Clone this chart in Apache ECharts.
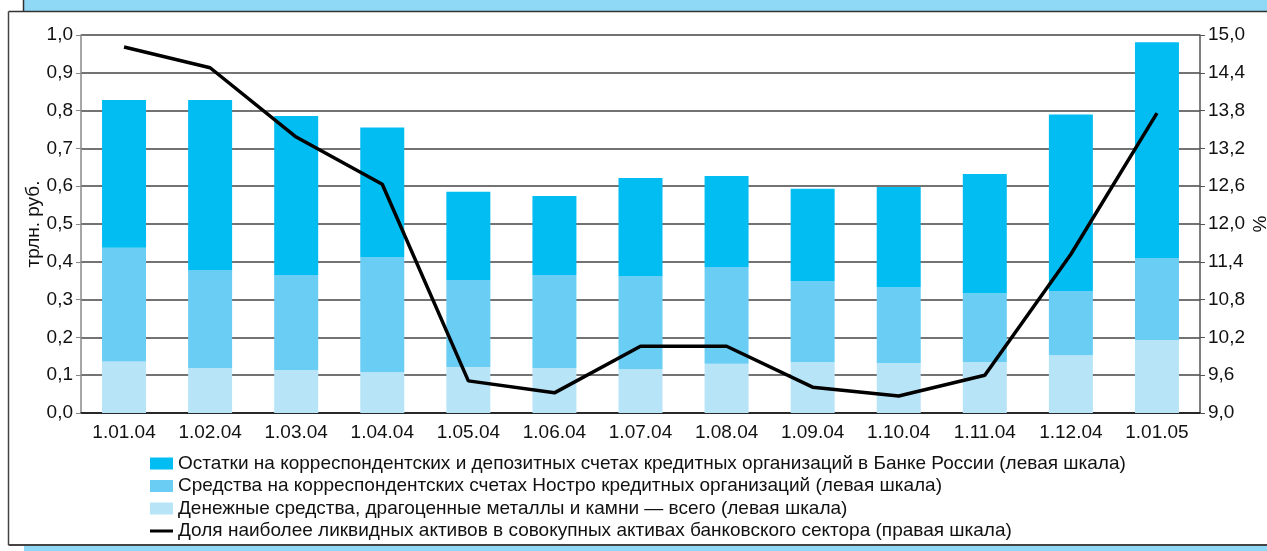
<!DOCTYPE html>
<html>
<head>
<meta charset="utf-8">
<script src="https://cdn.jsdelivr.net/npm/echarts@6/dist/echarts.min.js"></script>
<style>
  html, body { margin: 0; padding: 0; background: #fff; }
  #chart { width: 1267px; height: 551px; }
</style>
</head>
<body>
<div id="chart"></div>
<script>
// даты
var dates = ['1.01.04', '1.02.04', '1.03.04', '1.04.04', '1.05.04', '1.06.04', '1.07.04',
             '1.08.04', '1.09.04', '1.10.04', '1.11.04', '1.12.04', '1.01.05'];

// трлн. руб. (левая шкала)
var cash = [0.136, 0.119, 0.114, 0.108, 0.122, 0.119, 0.116, 0.130, 0.135, 0.132, 0.135, 0.153, 0.193];
var nostro = [0.301, 0.259, 0.251, 0.305, 0.230, 0.246, 0.246, 0.256, 0.214, 0.201, 0.182, 0.170, 0.217];
var cbr = [0.391, 0.450, 0.421, 0.342, 0.233, 0.209, 0.260, 0.241, 0.244, 0.265, 0.315, 0.467, 0.571];

// % (правая шкала)
var share = [14.81, 14.48, 13.38, 12.63, 9.51, 9.32, 10.06, 10.06, 9.41, 9.27, 9.60, 11.52, 13.76];

var names = [
    'Остатки на корреспондентских и депозитных счетах кредитных организаций в Банке России (левая шкала)',
    'Средства на корреспондентских счетах Ностро кредитных организаций (левая шкала)',
    'Денежные средства, драгоценные металлы и камни — всего (левая шкала)',
    'Доля наиболее ликвидных активов в совокупных активах банковского сектора (правая шкала)'
];

var font = 'Liberation Sans, Arial, sans-serif';
var comma = function (v) { return v.toFixed(1).replace('.', ','); };
// значок линии в легенде: полоска посередине, крошечные точки по углам держат размер
var lineIcon = 'path://M0,0L0.01,0L0,0.01Z M0,4.6H23V7.6H0Z M23,12L22.99,12L23,11.99Z';

var chart = echarts.init(document.getElementById('chart'));

chart.setOption({
    animation: false,
    textStyle: {fontFamily: font},
    graphic: [
        // рамка
        {type: 'rect', shape: {x: 24, y: 0, width: 1260, height: 11}, style: {fill: '#8fd8f6'}, z: 10},
        {type: 'line', shape: {x1: 23.5, y1: 0, x2: 23.5, y2: 11}, style: {stroke: '#333', lineWidth: 1.5}, z: 11},
        {type: 'line', shape: {x1: 8.5, y1: 11.5, x2: 1267, y2: 11.5}, style: {stroke: '#333', lineWidth: 1.5}, z: 11},
        {type: 'line', shape: {x1: 8.5, y1: 11.5, x2: 8.5, y2: 545}, style: {stroke: '#444', lineWidth: 1.5}, z: 11},
        {type: 'line', shape: {x1: 8.5, y1: 545, x2: 1267, y2: 545}, style: {stroke: '#444', lineWidth: 2}, z: 11},
        {type: 'rect', shape: {x: 24, y: 546, width: 1260, height: 6}, style: {fill: '#8fd8f6'}, z: 10}
    ],
    grid: {left: 81, right: 67, top: 35, bottom: 138, outerBoundsMode: 'none', containLabel: false},
    legend: {
        orient: 'vertical',
        left: 145,
        top: 449,
        itemWidth: 23,
        itemHeight: 12,
        itemGap: 3.5,
        textStyle: {fontSize: 19, color: '#111', fontFamily: font},
        data: [
            {name: names[0], icon: 'rect'},
            {name: names[1], icon: 'rect'},
            {name: names[2], icon: 'rect'},
            {name: names[3], icon: lineIcon}
        ]
    },
    xAxis: {
        type: 'category',
        data: dates,
        axisLine: {lineStyle: {color: '#111', width: 1.5}},
        axisTick: {length: 5, lineStyle: {color: '#333'}},
        axisLabel: {fontSize: 19, color: '#111', margin: 10}
    },
    yAxis: [
        {
            type: 'value',
            min: 0,
            max: 1,
            interval: 0.1,
            name: 'трлн. руб.',
            nameLocation: 'middle',
            nameRotate: 90,
            nameGap: 38,
            nameMoveOverlap: false,
            nameTextStyle: {fontSize: 19, color: '#111'},
            axisLine: {show: true, lineStyle: {color: '#888', width: 1.5}},
            axisTick: {show: true, length: 5, lineStyle: {color: '#888'}},
            axisLabel: {fontSize: 19, color: '#111', margin: 8, formatter: comma},
            splitLine: {lineStyle: {color: '#444', width: 1.5}}
        },
        {
            type: 'value',
            min: 9,
            max: 15,
            interval: 0.6,
            name: '%',
            nameLocation: 'middle',
            nameRotate: 90,
            nameGap: 51,
            nameMoveOverlap: false,
            nameTextStyle: {fontSize: 19, color: '#111'},
            axisLine: {show: true, lineStyle: {color: '#555', width: 1.5}},
            axisTick: {show: true, length: 5, lineStyle: {color: '#555'}},
            axisLabel: {fontSize: 19, color: '#111', margin: 8, formatter: comma},
            splitLine: {show: false}
        }
    ],
    series: [
        {
            name: names[2],
            type: 'bar',
            stack: 'liq',
            barWidth: 44,
            itemStyle: {color: '#b8e4f8'},
            data: cash
        },
        {
            name: names[1],
            type: 'bar',
            stack: 'liq',
            barWidth: 44,
            itemStyle: {color: '#69cdf4'},
            data: nostro
        },
        {
            name: names[0],
            type: 'bar',
            stack: 'liq',
            barWidth: 44,
            itemStyle: {color: '#02bdf1'},
            data: cbr
        },
        {
            name: names[3],
            type: 'line',
            yAxisIndex: 1,
            symbol: 'none',
            itemStyle: {color: '#000'},
            lineStyle: {color: '#000', width: 3.5},
            z: 5,
            data: share
        }
    ]
});
</script>
</body>
</html>
